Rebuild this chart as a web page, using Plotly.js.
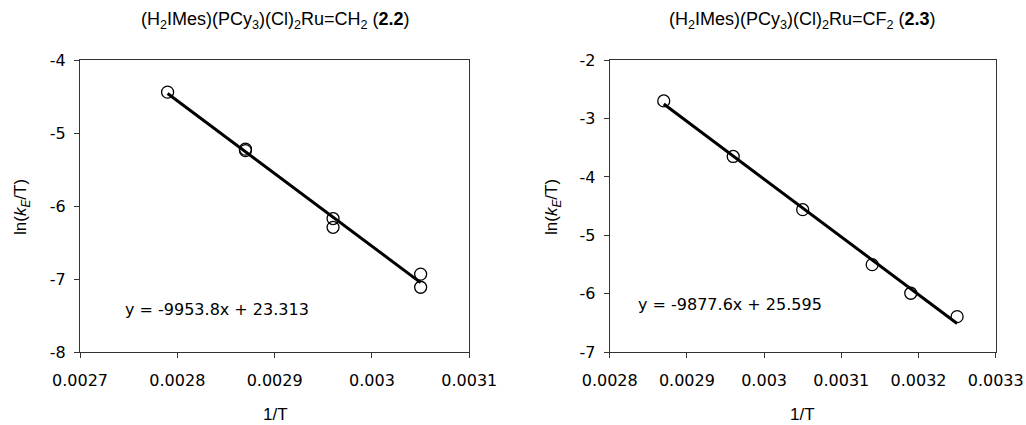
<!DOCTYPE html>
<html>
<head>
<meta charset="utf-8">
<script src="https://cdn.plot.ly/plotly-3.0.1.min.js"></script>
<style>html,body{margin:0;padding:0;background:#fff;}#chart{width:1026px;height:425px;}</style>
</head>
<body>
<div id="chart"></div>
<script>
// Left panel: (H2IMes)(PCy3)(Cl)2Ru=CH2 (2.2)
const invT_22 = [0.00279, 0.00287, 0.00287, 0.00296, 0.00296, 0.00305, 0.00305];
const lnkT_22 = [-4.44, -5.22, -5.24, -6.17, -6.29, -6.93, -7.11];
const slope_22 = -9953.8, intercept_22 = 23.313;
const fitX_22 = [0.00279, 0.00305];

// Right panel: (H2IMes)(PCy3)(Cl)2Ru=CF2 (2.3)
const invT_23 = [0.00287, 0.00296, 0.00305, 0.00314, 0.00319, 0.00325];
const lnkT_23 = [-2.70, -3.65, -4.56, -5.50, -5.99, -6.39];
const slope_23 = -9877.6, intercept_23 = 25.595;
const fitX_23 = [0.00287, 0.00325];

const xTicks_22 = [0.0027, 0.0028, 0.0029, 0.003, 0.0031];
const xTickText_22 = ['0.0027', '0.0028', '0.0029', '0.003', '0.0031'];
const xTicks_23 = [0.0028, 0.0029, 0.003, 0.0031, 0.0032, 0.0033];
const xTickText_23 = ['0.0028', '0.0029', '0.003', '0.0031', '0.0032', '0.0033'];
const yTicks_22 = [-8, -7, -6, -5, -4];
const yTickText_22 = ['-8', '-7', '-6', '-5', '-4'];
const yTicks_23 = [-7, -6, -5, -4, -3, -2];
const yTickText_23 = ['-7', '-6', '-5', '-4', '-3', '-2'];

const fitY = (xs, m, b) => xs.map(x => m * x + b);

const tickFont = {family: 'DejaVu Sans', size: 16, color: '#000'};
const axisCommon = {
  showgrid: false, zeroline: false, showline: true, linecolor: '#333', linewidth: 1,
  mirror: true, ticks: 'outside', ticklen: 5, tickcolor: '#333', tickfont: tickFont,
  fixedrange: true
};

const markerStyle = {symbol: 'circle-open', size: 12, color: '#000', line: {width: 1.3, color: '#000'}};

const traces = [
  {x: fitX_22, y: fitY(fitX_22, slope_22, intercept_22), xaxis: 'x', yaxis: 'y', mode: 'lines',
   line: {color: '#000', width: 3}, hoverinfo: 'skip'},
  {x: invT_22, y: lnkT_22, xaxis: 'x', yaxis: 'y', mode: 'markers', marker: markerStyle},
  {x: fitX_23, y: fitY(fitX_23, slope_23, intercept_23), xaxis: 'x2', yaxis: 'y2', mode: 'lines',
   line: {color: '#000', width: 3}, hoverinfo: 'skip'},
  {x: invT_23, y: lnkT_23, xaxis: 'x2', yaxis: 'y2', mode: 'markers', marker: markerStyle}
];

const titleFont = {family: 'Liberation Sans, Arial', size: 18, color: '#000'};
const axTitleFont = {family: 'Liberation Sans, Arial', size: 17, color: '#000'};

const layout = {
  width: 1026, height: 425,
  margin: {l: 0, r: 0, t: 0, b: 0},
  paper_bgcolor: '#fff', plot_bgcolor: '#fff',
  showlegend: false,
  xaxis: Object.assign({}, axisCommon, {domain: [80/1026, 469.3/1026], range: [0.0027, 0.0031],
    tickvals: xTicks_22, ticktext: xTickText_22, anchor: 'y', ticklabelstandoff: 8}),
  yaxis: Object.assign({}, axisCommon, {domain: [1 - 352.3/425, 1 - 60/425], range: [-8, -4],
    tickvals: yTicks_22, ticktext: yTickText_22, anchor: 'x', ticklabelstandoff: 5}),
  xaxis2: Object.assign({}, axisCommon, {domain: [609.7/1026, 995.7/1026], range: [0.0028, 0.0033],
    tickvals: xTicks_23, ticktext: xTickText_23, anchor: 'y2', ticklabelstandoff: 8}),
  yaxis2: Object.assign({}, axisCommon, {domain: [1 - 352.3/425, 1 - 60/425], range: [-7, -2],
    tickvals: yTicks_23, ticktext: yTickText_23, anchor: 'x2', ticklabelstandoff: 5}),
  annotations: [
    {text: '(H<sub>2</sub>IMes)(PCy<sub>3</sub>)(Cl)<sub>2</sub>Ru=CH<sub>2</sub> (<b>2.2</b>)',
     xref: 'paper', yref: 'paper', x: 275/1026, y: 1 - 20/425, showarrow: false, font: titleFont,
     xanchor: 'center', yanchor: 'middle'},
    {text: '(H<sub>2</sub>IMes)(PCy<sub>3</sub>)(Cl)<sub>2</sub>Ru=CF<sub>2</sub> (<b>2.3</b>)',
     xref: 'paper', yref: 'paper', x: 802/1026, y: 1 - 20/425, showarrow: false, font: titleFont,
     xanchor: 'center', yanchor: 'middle'},
    {text: 'ln(<i>k<sub>E</sub></i>/T)', xref: 'paper', yref: 'paper', x: 22/1026, y: 1 - 207/425,
     textangle: -90, showarrow: false, font: axTitleFont, xanchor: 'center', yanchor: 'middle'},
    {text: 'ln(<i>k<sub>E</sub></i>/T)', xref: 'paper', yref: 'paper', x: 553/1026, y: 1 - 207/425,
     textangle: -90, showarrow: false, font: axTitleFont, xanchor: 'center', yanchor: 'middle'},
    {text: '1/T', xref: 'paper', yref: 'paper', x: 275/1026, y: 1 - 414/425, showarrow: false,
     font: axTitleFont, xanchor: 'center', yanchor: 'middle'},
    {text: '1/T', xref: 'paper', yref: 'paper', x: 802/1026, y: 1 - 414/425, showarrow: false,
     font: axTitleFont, xanchor: 'center', yanchor: 'middle'},
    {text: 'y = ' + slope_22 + 'x + ' + intercept_22, xref: 'x', yref: 'y', x: 0.002744, y: -7.42,
     showarrow: false, xanchor: 'left', yanchor: 'middle', font: tickFont},
    {text: 'y = ' + slope_23 + 'x + ' + intercept_23, xref: 'x2', yref: 'y2', x: 0.002834, y: -6.19,
     showarrow: false, xanchor: 'left', yanchor: 'middle', font: tickFont}
  ]
};

Plotly.newPlot('chart', traces, layout, {staticPlot: true});
</script>
</body>
</html>
